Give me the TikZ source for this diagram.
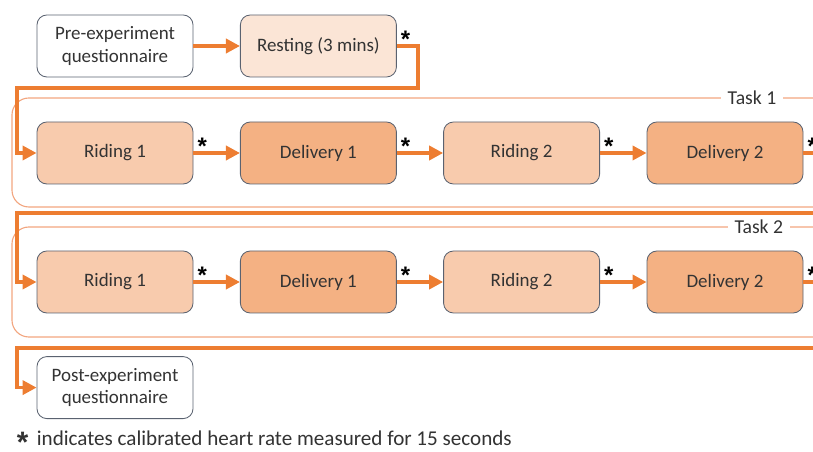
\documentclass[tikz,border=0pt]{standalone}
\usepackage{fontspec}
\setmainfont{Carlito}
\newfontfamily\starfont{Liberation Sans}
\usetikzlibrary{arrows.meta}

\definecolor{flow}{HTML}{ED7D31}
\definecolor{ridefill}{HTML}{F8CBAD}
\definecolor{delfill}{HTML}{F4B183}
\definecolor{restfill}{HTML}{FBE5D6}
\definecolor{boxline}{HTML}{5A6270}
\definecolor{taskline}{HTML}{F2A680}
\definecolor{txt}{HTML}{333333}

\tikzset{
  stage/.style={draw=boxline, line width=0.6pt, rounded corners=7pt,
    minimum width=3.9cm, minimum height=1.55cm, align=center, text=txt,
    font=\fontsize{13.5}{16}\selectfont},
  ride/.style={stage, fill=ridefill},
  deliv/.style={stage, fill=delfill},
  flowline/.style={draw=flow, line width=2.6pt, -{Triangle[length=10pt,width=10pt]}},
  hr/.style={inner sep=0pt, font=\starfont\bfseries\fontsize{17}{17}\selectfont},
  taskframe/.style={draw=taskline, line width=0.8pt, rounded corners=12pt},
  tasklbl/.style={fill=white, text=txt, inner xsep=5pt, inner ysep=1pt,
    font=\fontsize{14}{16}\selectfont}
}

\begin{document}
\begin{tikzpicture}
\path[use as bounding box, clip] (0,0) rectangle (20.325,-11.3);

% task frames
\draw[taskframe] (0.3,-2.45) rectangle (20.9,-5.175);
\node[tasklbl] (t1) at (18.8,-2.45) {Task 1};
\draw[taskframe] (0.3,-5.675) rectangle (20.9,-8.425);
\node[tasklbl] (t2) at (18.97,-5.675) {Task 2};

% stages
\node[stage] (pre) at (2.875,-1.15) {Pre-experiment\\questionnaire};
\node[stage, fill=restfill] (rest) at (7.96,-1.15) {Resting (3 mins)};

\node[ride] (ra1) at (2.875,-3.825) {Riding 1};
\node[deliv] (da1) at (7.96,-3.825) {Delivery 1};
\node[ride] (ra2) at (13.04,-3.825) {Riding 2};
\node[deliv] (da2) at (18.125,-3.825) {Delivery 2};

\node[ride] (rb1) at (2.875,-7.05) {Riding 1};
\node[deliv] (db1) at (7.96,-7.05) {Delivery 1};
\node[ride] (rb2) at (13.04,-7.05) {Riding 2};
\node[deliv] (db2) at (18.125,-7.05) {Delivery 2};

\node[stage] (post) at (2.875,-9.69) {Post-experiment\\questionnaire};

% connectors
\draw[flowline] (pre) -- (rest);
\draw[flowline] (rest.east) -- (10.45,-1.15) -- (10.45,-2.2) -- (0.425,-2.2)
  -- (0.425,-3.825) -- (ra1.west);
\draw[flowline] (ra1) -- (da1);
\draw[flowline] (da1) -- (ra2);
\draw[flowline] (ra2) -- (da2);
\draw[flowline] (da2.east) -- (20.8,-3.825) -- (20.8,-5.325) -- (0.425,-5.325)
  -- (0.425,-7.05) -- (rb1.west);
\draw[flowline] (rb1) -- (db1);
\draw[flowline] (db1) -- (rb2);
\draw[flowline] (rb2) -- (db2);
\draw[flowline] (db2.east) -- (20.8,-7.05) -- (20.8,-8.7) -- (0.425,-8.7)
  -- (0.425,-9.69) -- (post.west);

% heart rate marks
\node[hr] (s0) at ([shift={(0.22,0.16)}]rest.east) {*};
\node[hr] (s1) at ([shift={(0.22,0.16)}]ra1.east) {*};
\node[hr] (s2) at ([shift={(0.22,0.16)}]da1.east) {*};
\node[hr] (s3) at ([shift={(0.22,0.16)}]ra2.east) {*};
\node[hr] (s4) at ([shift={(0.22,0.16)}]da2.east) {*};
\node[hr] (s5) at ([shift={(0.22,0.16)}]rb1.east) {*};
\node[hr] (s6) at ([shift={(0.22,0.16)}]db1.east) {*};
\node[hr] (s7) at ([shift={(0.22,0.16)}]rb2.east) {*};
\node[hr] (s8) at ([shift={(0.22,0.16)}]db2.east) {*};

\node[anchor=west, text=txt, font=\fontsize{15}{17}\selectfont] (note) at (0.3,-11.05)
  {{\starfont\bfseries\fontsize{21}{21}\selectfont\raisebox{-0.45ex}{*}}\hspace{6pt}indicates calibrated heart rate measured for 15 seconds};
\end{tikzpicture}
\end{document}
